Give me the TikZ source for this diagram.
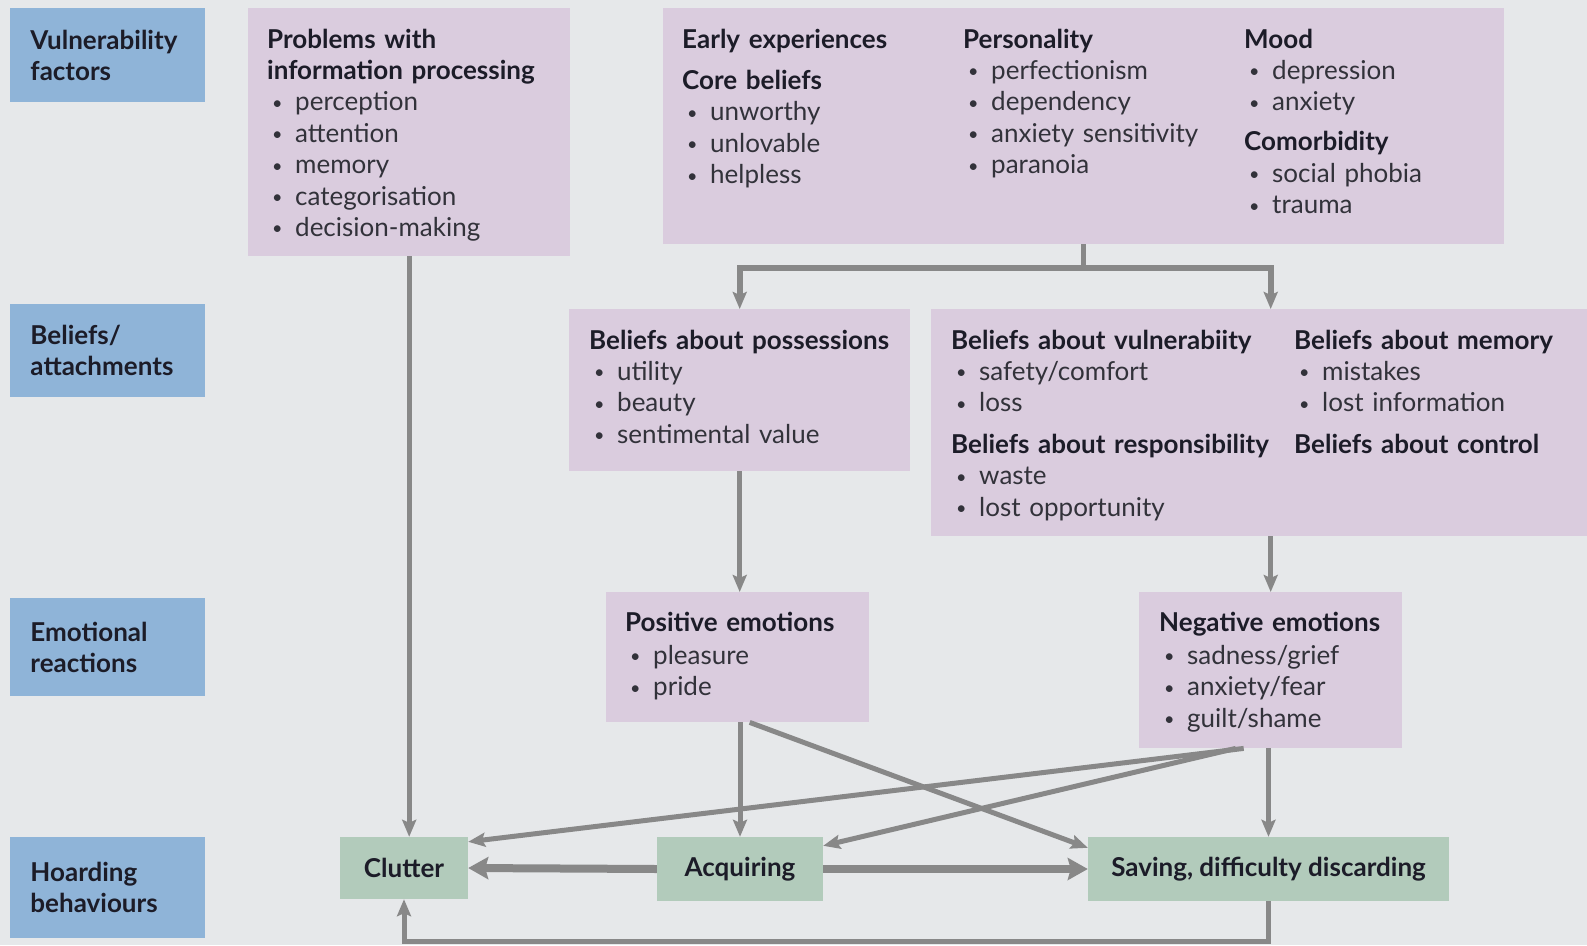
\documentclass[tikz,border=0pt]{standalone}
\usepackage{fontspec}
\setmainfont{Lato}
\usetikzlibrary{arrows.meta}
\definecolor{bg}{RGB}{230,232,234}
\definecolor{blu}{RGB}{143,180,216}
\definecolor{pur}{RGB}{218,204,222}
\definecolor{grn}{RGB}{178,203,187}
\definecolor{arr}{RGB}{136,136,136}
\definecolor{ink}{RGB}{28,28,40}
\definecolor{body}{RGB}{50,50,58}
\newcommand{\bl}{\makebox[28pt][l]{\hspace{5pt}\raisebox{1.5pt}{\fontsize{18}{18}\selectfont\textbullet}}}
\newcommand{\hd}[1]{{\color{ink}\bfseries #1}}
\tikzset{
  box/.style={inner sep=0pt, anchor=north west},
  lab/.style={box, fill=blu, minimum width=194.5pt, align=left, text width=154pt, inner xsep=20pt, text=ink, font=\fontsize{26}{31.4}\selectfont\bfseries},
  pbox/.style={box, fill=pur},
  gbox/.style={fill=grn, inner sep=0pt, text=ink, font=\fontsize{26}{30}\selectfont\bfseries},
  txt/.style={anchor=base west, inner sep=0pt, align=left, text width=#1, text=body, font=\fontsize{26}{31.4}\selectfont},
  txt/.default=340pt,
  ln/.style={draw=arr, line width=5pt},
  ar/.style={ln, -{Stealth[length=17pt,width=14pt,inset=3pt]}},
  thk/.style={draw=arr, line width=8pt, -{Stealth[length=20pt,width=22pt,inset=3pt]}},
}
\begin{document}
\begin{tikzpicture}[x=1pt,y=-1pt]
\fill[bg] (0,0) rectangle (1587,945);
\useasboundingbox (0,0) rectangle (1587,945);
% row labels
\node[lab, minimum height=94pt] (l1) at (10,8) {Vulnerability\\factors};
\node[lab, minimum height=93pt] (l2) at (10,304) {Beliefs/\\attachments};
\node[lab, minimum height=98pt] (l3) at (10,598) {Emotional\\reactions};
\node[lab, minimum height=101pt] (l4) at (10,837) {Hoarding\\behaviours};
% purple boxes
\node[pbox, minimum width=322pt, minimum height=248pt] (prob) at (248,8) {};
\node[pbox, minimum width=841pt, minimum height=236pt] (top) at (663,8) {};
\node[pbox, minimum width=341pt, minimum height=162pt] (poss) at (569,309) {};
\node[pbox, minimum width=656pt, minimum height=227pt] (vul) at (931,309) {};
\node[pbox, minimum width=263pt, minimum height=130pt] (pos) at (606,592) {};
\node[pbox, minimum width=263pt, minimum height=156pt] (neg) at (1139,592) {};
% texts
\node[txt] (tprob) at (267,48) {\hd{Problems with}\\\hd{information processing}\\\bl perception\\\bl attention\\\bl memory\\\bl categorisation\\\bl decision-making};
\node[txt] (tearly) at (682,48) {\hd{Early experiences}\\[10pt]\hd{Core beliefs}\\\bl unworthy\\\bl unlovable\\\bl helpless};
\node[txt] (tpers) at (963,48) {\hd{Personality}\\\bl perfectionism\\\bl dependency\\\bl anxiety sensitivity\\\bl paranoia};
\node[txt] (tmood) at (1244,48) {\hd{Mood}\\\bl depression\\\bl anxiety\\[8.5pt]\hd{Comorbidity}\\\bl social phobia\\\bl trauma};
\node[txt] (tposs) at (589,349) {\hd{Beliefs about possessions}\\\bl utility\\\bl beauty\\\bl sentimental value};
\node[txt] (tvul) at (951,349) {\hd{Beliefs about vulnerabiity}\\\bl safety/comfort\\\bl loss\\[10pt]\hd{Beliefs about responsibility}\\\bl waste\\\bl lost opportunity};
\node[txt] (tmem) at (1294,349) {\hd{Beliefs about memory}\\\bl mistakes\\\bl lost information\\[10pt]\hd{Beliefs about control}};
\node[txt] (tpos) at (625,631) {\hd{Positive emotions}\\[2pt]\bl pleasure\\\bl pride};
\node[txt] (tneg) at (1159,631) {\hd{Negative emotions}\\[2pt]\bl sadness/grief\\\bl anxiety/fear\\\bl guilt/shame};
% green boxes
\node[gbox, minimum width=128pt, minimum height=62pt] (clu) at (404,868) {Clutter};
\node[gbox, minimum width=166pt, minimum height=64pt] (acq) at (740,869) {Acquiring};
\node[gbox, minimum width=361pt, minimum height=64pt] (sav) at (1268.5,869) {Saving, difficulty discarding};
% connectors
\coordinate (split) at ([yshift=-24pt]top.south);
\draw[ln] (top.south) -- (split);
\draw[ar, line width=6pt] (split) -| (poss.north);
\draw[ar, line width=6pt] (split) -| (neg.north |- vul.north);
\draw[ar] (prob.south) -- (prob.south |- clu.north);
\draw[ar] (poss.south) -- (poss.south |- pos.north);
\draw[ar] (vul.south -| neg.north) -- (neg.north);
\draw[ar] (acq.north |- pos.south) -- (acq.north);
\draw[ar] ([xshift=12pt]pos.south) -- ([yshift=-11pt]sav.north west);
\draw[ar] ([xshift=-27pt]neg.south) -- ([yshift=-5pt]clu.north east);
\draw[ar] ([xshift=-35pt]neg.south) -- ([yshift=-9pt]acq.north east);
\draw[ar] (neg.south -| sav.north) -- (sav.north);
\draw[thk] (acq.west) -- (clu.east);
\draw[thk] (acq.east) -- (sav.west);
\draw[ar] (sav.south) -- ++(0,40) -| (clu.south);
\end{tikzpicture}
\end{document}
